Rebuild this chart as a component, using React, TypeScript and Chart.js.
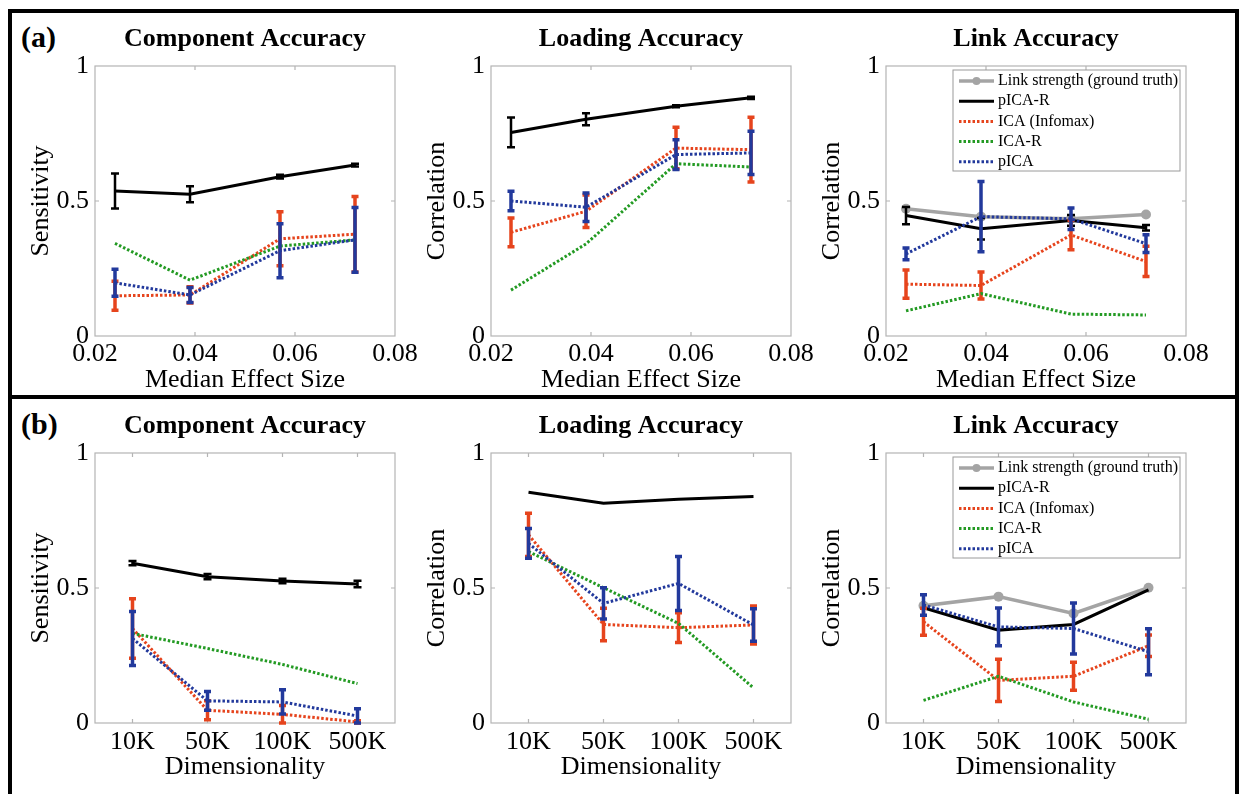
import React, { useEffect, useRef } from 'react';
import { Chart, registerables } from 'chart.js';

Chart.register(...registerables);

const FONT = "'Liberation Serif', 'Times New Roman', Times, serif";
Chart.defaults.font.family = FONT;
Chart.defaults.color = '#000';

// ---------- data ----------
const effectSizes = [0.024, 0.039, 0.057, 0.072];
const dimLabels = ['10K', '50K', '100K', '500K'];
const xTicksA = [0.02, 0.04, 0.06, 0.08];
const yTicks = [0, 0.5, 1];

const seriesNames = ['Link strength (ground truth)', 'pICA-R', 'ICA (Infomax)', 'ICA-R', 'pICA'];

// (a) Component Accuracy
const a1PicaR = [0.537, 0.525, 0.590, 0.633];
const a1PicaRErr = [0.065, 0.03, 0.007, 0.005];
const a1Ica = [0.149, 0.152, 0.360, 0.377];
const a1IcaErr = [0.054, 0.03, 0.10, 0.14];
const a1IcaR = [0.343, 0.207, 0.333, 0.356];
const a1Pica = [0.197, 0.152, 0.316, 0.356];
const a1PicaErr = [0.05, 0.028, 0.10, 0.12];

// (a) Loading Accuracy
const a2PicaR = [0.754, 0.803, 0.851, 0.882];
const a2PicaRErr = [0.055, 0.022, 0.004, 0.004];
const a2Ica = [0.384, 0.462, 0.696, 0.690];
const a2IcaErr = [0.053, 0.06, 0.077, 0.12];
const a2IcaR = [0.170, 0.341, 0.638, 0.626];
const a2Pica = [0.500, 0.477, 0.672, 0.678];
const a2PicaErr = [0.036, 0.053, 0.055, 0.08];

// (a) Link Accuracy
const a3Truth = [0.471, 0.442, 0.434, 0.450];
const a3PicaR = [0.446, 0.397, 0.428, 0.401];
const a3PicaRErr = [0.032, 0.04, 0.02, 0.01];
const a3Ica = [0.192, 0.187, 0.374, 0.276];
const a3IcaErr = [0.052, 0.05, 0.055, 0.056];
const a3IcaR = [0.093, 0.157, 0.081, 0.078];
const a3Pica = [0.304, 0.442, 0.434, 0.342];
const a3PicaErr = [0.022, 0.13, 0.04, 0.033];

// (b) Component Accuracy
const b1PicaR = [0.592, 0.542, 0.526, 0.515];
const b1PicaRErr = [0.008, 0.01, 0.008, 0.012];
const b1Ica = [0.35, 0.047, 0.032, 0.004];
const b1IcaErr = [0.11, 0.035, 0.033, 0.004];
const b1IcaR = [0.332, 0.276, 0.217, 0.146];
const b1Pica = [0.313, 0.082, 0.078, 0.026];
const b1PicaErr = [0.10, 0.035, 0.045, 0.027];

// (b) Loading Accuracy
const b2PicaR = [0.855, 0.814, 0.829, 0.839];
const b2Ica = [0.697, 0.365, 0.353, 0.363];
const b2IcaErr = [0.08, 0.06, 0.055, 0.07];
const b2IcaR = [0.635, 0.501, 0.369, 0.13];
const b2Pica = [0.665, 0.443, 0.517, 0.363];
const b2PicaErr = [0.055, 0.058, 0.10, 0.06];

// (b) Link Accuracy
const b3Truth = [0.434, 0.468, 0.406, 0.501];
const b3PicaR = [0.427, 0.344, 0.365, 0.493];
const b3Ica = [0.375, 0.158, 0.173, 0.286];
const b3IcaErr = [0.05, 0.078, 0.052, 0.04];
const b3IcaR = [0.084, 0.173, 0.078, 0.014];
const b3Pica = [0.437, 0.356, 0.35, 0.264];
const b3PicaErr = [0.038, 0.07, 0.094, 0.085];

// ---------- styles ----------
const C_GRAY = '#a4a4a4';
const C_BLACK = '#000000';
const C_RED = '#e6441d';
const C_GREEN = '#239a23';
const C_BLUE = '#22399c';
const BOX = '#b4b4b4';

const PLOT_W = 300;
const PLOT_H = 270;
const Y_AXIS_W = 85;
const X_AXIS_H = 60;
const TOP_H = 56;
const RIGHT_PAD = 35;

// ---------- plugins ----------
const framePlugin = {
  id: 'frameBox',
  beforeDatasetsDraw(chart: any) {
    const { ctx, chartArea: a, scales } = chart;
    ctx.save();
    ctx.strokeStyle = BOX;
    ctx.lineWidth = 1.2;
    ctx.setLineDash([]);
    ctx.strokeRect(a.left, a.top, a.right - a.left, a.bottom - a.top);
    const L = 4;
    ctx.beginPath();
    scales.x.ticks.forEach((_: any, i: number) => {
      const px = scales.x.getPixelForTick(i);
      if (px <= a.left + 1 || px >= a.right - 1) return;
      ctx.moveTo(px, a.top); ctx.lineTo(px, a.top + L);
      ctx.moveTo(px, a.bottom); ctx.lineTo(px, a.bottom - L);
    });
    scales.y.ticks.forEach((_: any, i: number) => {
      const py = scales.y.getPixelForTick(i);
      if (py <= a.top + 1 || py >= a.bottom - 1) return;
      ctx.moveTo(a.left, py); ctx.lineTo(a.left + L, py);
      ctx.moveTo(a.right, py); ctx.lineTo(a.right - L, py);
    });
    ctx.stroke();
    ctx.restore();
  },
};

const errorBarPlugin = {
  id: 'errorBars',
  afterDatasetDraw(chart: any, args: any) {
    const ds = chart.data.datasets[args.index];
    const errs: number[] | undefined = ds.errors;
    if (!errs) return;
    const y = chart.scales.y;
    const ctx = chart.ctx;
    ctx.save();
    ctx.strokeStyle = ds.borderColor;
    ctx.lineWidth = ds.errWidth || 3;
    ctx.setLineDash([]);
    ctx.lineCap = 'butt';
    args.meta.data.forEach((pt: any, i: number) => {
      const e = errs[i];
      if (!e) return;
      const raw = ds.data[i];
      const v = typeof raw === 'number' ? raw : raw.y;
      const top = y.getPixelForValue(v + e);
      const bot = y.getPixelForValue(Math.max(0, v - e));
      const cw = ds.capHalf || 3.5;
      ctx.beginPath();
      ctx.moveTo(pt.x, top); ctx.lineTo(pt.x, bot);
      ctx.moveTo(pt.x - cw, top); ctx.lineTo(pt.x + cw, top);
      ctx.moveTo(pt.x - cw, bot); ctx.lineTo(pt.x + cw, bot);
      ctx.stroke();
    });
    ctx.restore();
  },
};

const boxLegendPlugin = {
  id: 'boxLegend',
  afterDraw(chart: any, _args: any, opts: any) {
    if (!opts || !opts.show) return;
    const { ctx, chartArea: a } = chart;
    const left = a.right - 233;
    const top = a.top + 4;
    const w = 227;
    const h = 101;
    ctx.save();
    ctx.fillStyle = '#ffffff';
    ctx.fillRect(left, top, w, h);
    ctx.strokeStyle = '#9a9a9a';
    ctx.lineWidth = 1;
    ctx.strokeRect(left, top, w, h);
    const dsets = chart.data.datasets;
    dsets.forEach((ds: any, i: number) => {
      const cy = top + 11 + i * 20.2;
      const x0 = left + 6;
      const x1 = left + 41;
      ctx.strokeStyle = ds.borderColor;
      ctx.lineWidth = ds.borderWidth;
      ctx.setLineDash(ds.borderDash || []);
      ctx.beginPath();
      ctx.moveTo(x0, cy); ctx.lineTo(x1, cy);
      ctx.stroke();
      if (ds.pointRadius) {
        ctx.fillStyle = ds.borderColor;
        ctx.beginPath();
        ctx.arc((x0 + x1) / 2, cy, 4, 0, Math.PI * 2);
        ctx.fill();
      }
      ctx.setLineDash([]);
      ctx.fillStyle = '#000';
      ctx.font = `16px ${FONT}`;
      ctx.textBaseline = 'middle';
      ctx.textAlign = 'left';
      ctx.fillText(ds.label, left + 45, cy);
    });
    ctx.restore();
  },
};

// ---------- helpers ----------
type SeriesSpec = { values: number[]; errors?: number[] };

function makeDatasets(xs: (number | string)[], numericX: boolean, truth: SeriesSpec | null, picaR: SeriesSpec, ica: SeriesSpec, icaR: SeriesSpec, pica: SeriesSpec) {
  const toData = (vals: number[]) => (numericX ? vals.map((v, i) => ({ x: xs[i] as number, y: v })) : vals);
  const dotted = [2.5, 2];
  const list: any[] = [];
  if (truth) {
    list.push({ label: seriesNames[0], data: toData(truth.values), borderColor: C_GRAY, backgroundColor: C_GRAY, borderWidth: 3.5, pointRadius: 5, pointBackgroundColor: C_GRAY, pointBorderWidth: 0, order: 5 });
  }
  list.push({ label: seriesNames[1], data: toData(picaR.values), borderColor: C_BLACK, backgroundColor: C_BLACK, borderWidth: 3, pointRadius: 0, order: 4, errors: picaR.errors, errWidth: 2.5, capHalf: 4 });
  list.push({ label: seriesNames[2], data: toData(ica.values), borderColor: C_RED, backgroundColor: C_RED, borderWidth: 3, borderDash: dotted, pointRadius: 0, order: 3, errors: ica.errors, errWidth: 3.5 });
  list.push({ label: seriesNames[3], data: toData(icaR.values), borderColor: C_GREEN, backgroundColor: C_GREEN, borderWidth: 3, borderDash: dotted, pointRadius: 0, order: 2, errors: icaR.errors });
  list.push({ label: seriesNames[4], data: toData(pica.values), borderColor: C_BLUE, backgroundColor: C_BLUE, borderWidth: 3, borderDash: dotted, pointRadius: 0, order: 1, errors: pica.errors, errWidth: 3.5 });
  return list;
}

type PanelCfg = {
  left: number;
  top: number;
  title: string;
  yTitle: string;
  xTitle: string;
  numericX: boolean;
  datasets: any[];
  legend: boolean;
};

function Subplot({ cfg }: { cfg: PanelCfg }) {
  const ref = useRef<HTMLCanvasElement | null>(null);
  useEffect(() => {
    if (!ref.current) return;
    const tickFont = { size: 26, family: FONT };
    const xScale: any = cfg.numericX
      ? {
          type: 'linear',
          min: xTicksA[0],
          max: xTicksA[xTicksA.length - 1],
          afterBuildTicks: (s: any) => { s.ticks = xTicksA.map((v) => ({ value: v })); },
          ticks: { font: tickFont, color: '#000', padding: 3, maxRotation: 0, callback: (v: any) => Number(v).toFixed(2) },
        }
      : {
          type: 'category',
          labels: dimLabels,
          offset: true,
          ticks: { font: tickFont, color: '#000', padding: 4, maxRotation: 0, autoSkip: false },
        };
    Object.assign(xScale, {
      position: 'bottom',
      grid: { display: false, drawTicks: false },
      border: { display: false },
      title: { display: true, text: cfg.xTitle, font: { size: 26, family: FONT }, color: '#000', padding: { top: 0, bottom: 0 } },
      afterFit: (s: any) => { s.height = X_AXIS_H; },
    });
    const chart = new Chart(ref.current, {
      type: 'line',
      data: { labels: cfg.numericX ? undefined : dimLabels, datasets: cfg.datasets },
      options: {
        responsive: false,
        animation: false,
        events: [],
        layout: { padding: { left: 0, right: RIGHT_PAD, top: 0, bottom: 0 } },
        elements: { line: { tension: 0, borderCapStyle: 'butt' } },
        plugins: {
          legend: { display: false },
          tooltip: { enabled: false },
          title: {
            display: true,
            text: cfg.title,
            fullSize: false,
            color: '#000',
            font: { size: 26, weight: 'bold', family: FONT },
            padding: { top: 14, bottom: 10.8 },
          },
          boxLegend: { show: cfg.legend },
        } as any,
        scales: {
          x: xScale,
          y: {
            type: 'linear',
            min: 0,
            max: 1,
            afterBuildTicks: (s: any) => { s.ticks = yTicks.map((v) => ({ value: v })); },
            grid: { display: false, drawTicks: false },
            border: { display: false },
            ticks: { font: tickFont, color: '#000', padding: 6, callback: (v: any) => String(v) },
            title: { display: true, text: cfg.yTitle, font: { size: 26, family: FONT }, color: '#000', padding: { top: 15.5, bottom: 0 } },
            afterFit: (s: any) => { s.width = Y_AXIS_W; },
          },
        },
      } as any,
      plugins: [framePlugin, errorBarPlugin, boxLegendPlugin],
    });
    return () => chart.destroy();
  }, [cfg]);
  return (
    <canvas
      ref={ref}
      width={Y_AXIS_W + PLOT_W + RIGHT_PAD}
      height={TOP_H + PLOT_H + X_AXIS_H}
      style={{ position: 'absolute', left: cfg.left - Y_AXIS_W, top: cfg.top - TOP_H, width: Y_AXIS_W + PLOT_W + RIGHT_PAD, height: TOP_H + PLOT_H + X_AXIS_H }}
    />
  );
}

const COL_LEFT = [95, 491, 886];
const ROW_TOP = [66, 453];

const panels: PanelCfg[] = [
  { left: COL_LEFT[0], top: ROW_TOP[0], title: 'Component Accuracy', yTitle: 'Sensitivity', xTitle: 'Median Effect Size', numericX: true, legend: false,
    datasets: makeDatasets(effectSizes, true, null, { values: a1PicaR, errors: a1PicaRErr }, { values: a1Ica, errors: a1IcaErr }, { values: a1IcaR }, { values: a1Pica, errors: a1PicaErr }) },
  { left: COL_LEFT[1], top: ROW_TOP[0], title: 'Loading Accuracy', yTitle: 'Correlation', xTitle: 'Median Effect Size', numericX: true, legend: false,
    datasets: makeDatasets(effectSizes, true, null, { values: a2PicaR, errors: a2PicaRErr }, { values: a2Ica, errors: a2IcaErr }, { values: a2IcaR }, { values: a2Pica, errors: a2PicaErr }) },
  { left: COL_LEFT[2], top: ROW_TOP[0], title: 'Link Accuracy', yTitle: 'Correlation', xTitle: 'Median Effect Size', numericX: true, legend: true,
    datasets: makeDatasets(effectSizes, true, { values: a3Truth }, { values: a3PicaR, errors: a3PicaRErr }, { values: a3Ica, errors: a3IcaErr }, { values: a3IcaR }, { values: a3Pica, errors: a3PicaErr }) },
  { left: COL_LEFT[0], top: ROW_TOP[1], title: 'Component Accuracy', yTitle: 'Sensitivity', xTitle: 'Dimensionality', numericX: false, legend: false,
    datasets: makeDatasets(dimLabels, false, null, { values: b1PicaR, errors: b1PicaRErr }, { values: b1Ica, errors: b1IcaErr }, { values: b1IcaR }, { values: b1Pica, errors: b1PicaErr }) },
  { left: COL_LEFT[1], top: ROW_TOP[1], title: 'Loading Accuracy', yTitle: 'Correlation', xTitle: 'Dimensionality', numericX: false, legend: false,
    datasets: makeDatasets(dimLabels, false, null, { values: b2PicaR }, { values: b2Ica, errors: b2IcaErr }, { values: b2IcaR }, { values: b2Pica, errors: b2PicaErr }) },
  { left: COL_LEFT[2], top: ROW_TOP[1], title: 'Link Accuracy', yTitle: 'Correlation', xTitle: 'Dimensionality', numericX: false, legend: true,
    datasets: makeDatasets(dimLabels, false, { values: b3Truth }, { values: b3PicaR }, { values: b3Ica, errors: b3IcaErr }, { values: b3IcaR }, { values: b3Pica, errors: b3PicaErr }) },
];

export default function App() {
  const panelLabel = (text: string, top: number) => (
    <div style={{ position: 'absolute', left: 21, top, fontFamily: FONT, fontWeight: 'bold', fontSize: 30, lineHeight: '30px', color: '#000' }}>{text}</div>
  );
  return (
    <div style={{ position: 'absolute', left: 0, top: 0, width: 1243, height: 794, overflow: 'hidden', background: '#fff' }}>
      <div style={{ position: 'absolute', left: 8, top: 9, width: 1231, height: 390, border: '4px solid #000', boxSizing: 'border-box' }} />
      <div style={{ position: 'absolute', left: 8, top: 395, width: 1231, height: 420, border: '4px solid #000', borderBottom: 'none', boxSizing: 'border-box' }} />
      {panelLabel('(a)', 22)}
      {panelLabel('(b)', 409)}
      {panels.map((p, i) => (
        <Subplot key={i} cfg={p} />
      ))}
    </div>
  );
}
